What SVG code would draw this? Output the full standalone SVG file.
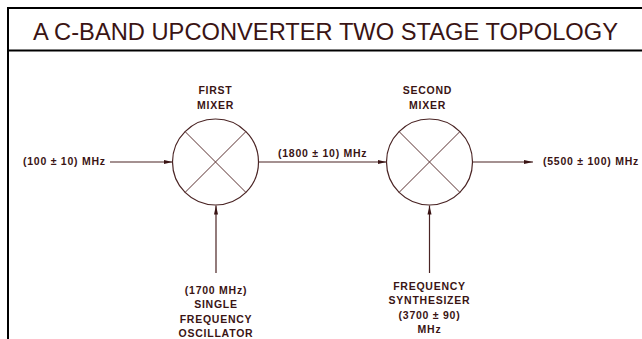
<svg xmlns="http://www.w3.org/2000/svg" width="642" height="339" viewBox="0 0 642 339">
<style>
.frame{fill:none;stroke:#000;stroke-width:2}
.ln{fill:none;stroke:#4a2424;stroke-width:1.2}
.mx{fill:#fff;stroke:#4a2424;stroke-width:1.2}
.x{stroke:#5a3030;stroke-width:1}
.t{font-family:"Liberation Sans",Arial,sans-serif;font-size:10.5px;font-weight:bold;fill:#3a1414;letter-spacing:0.75px}
.c{text-anchor:middle}
.title{font-family:"Liberation Sans",Arial,sans-serif;font-size:23.5px;fill:#3a1414}
</style>
<defs>
<marker id="ah" markerWidth="10" markerHeight="6" refX="9" refY="3" orient="auto" markerUnits="userSpaceOnUse">
<path d="M0,1 L9,3 L0,5 Z" fill="#3a1414"/>
</marker>
</defs>
<g id="frame">
<line class="frame" x1="7" y1="8" x2="642" y2="8"/>
<line class="frame" x1="7" y1="50.5" x2="642" y2="50.5"/>
<line class="frame" x1="8" y1="7" x2="8" y2="339"/>
<text class="title" x="33" y="39.5" textLength="585" lengthAdjust="spacingAndGlyphs">A C-BAND UPCONVERTER TWO STAGE TOPOLOGY</text>
</g>
<g id="connectors">
<line class="ln" x1="110" y1="162" x2="172.5" y2="162" marker-end="url(#ah)"/>
<line class="ln" x1="258.5" y1="162" x2="386.5" y2="162" marker-end="url(#ah)"/>
<line class="ln" x1="472.5" y1="162" x2="533" y2="162" marker-end="url(#ah)"/>
<line class="ln" x1="216" y1="273" x2="216" y2="205.5" marker-end="url(#ah)"/>
<line class="ln" x1="429.5" y1="273" x2="429.5" y2="205.5" marker-end="url(#ah)"/>
</g>
<g id="first-mixer">
<circle class="mx" cx="215.5" cy="162" r="43"/>
<line class="x" x1="185.1" y1="131.6" x2="245.9" y2="192.4"/>
<line class="x" x1="245.9" y1="131.6" x2="185.1" y2="192.4"/>
<text class="t c" x="215.5" y="94">FIRST</text>
<text class="t c" x="215.5" y="109">MIXER</text>
</g>
<g id="second-mixer">
<circle class="mx" cx="429.5" cy="162" r="43"/>
<line class="x" x1="399.1" y1="131.6" x2="459.9" y2="192.4"/>
<line class="x" x1="459.9" y1="131.6" x2="399.1" y2="192.4"/>
<text class="t c" x="427.5" y="94">SECOND</text>
<text class="t c" x="427.5" y="109">MIXER</text>
</g>
<g id="input">
<text class="t" x="23" y="165">(100 ± 10) MHz</text>
</g>
<g id="intermediate">
<text class="t" x="278" y="157">(1800 ± 10) MHz</text>
</g>
<g id="output">
<text class="t" x="543" y="165">(5500 ± 100) MHz</text>
</g>
<g id="oscillator">
<text class="t c" x="216" y="294">(1700 MHz)</text>
<text class="t c" x="216" y="308">SINGLE</text>
<text class="t c" x="216" y="323">FREQUENCY</text>
<text class="t c" x="216" y="337">OSCILLATOR</text>
</g>
<g id="synthesizer">
<text class="t c" x="429.5" y="290">FREQUENCY</text>
<text class="t c" x="429.5" y="304">SYNTHESIZER</text>
<text class="t c" x="429.5" y="319">(3700 ± 90)</text>
<text class="t c" x="429.5" y="333">MHz</text>
</g>
</svg>
